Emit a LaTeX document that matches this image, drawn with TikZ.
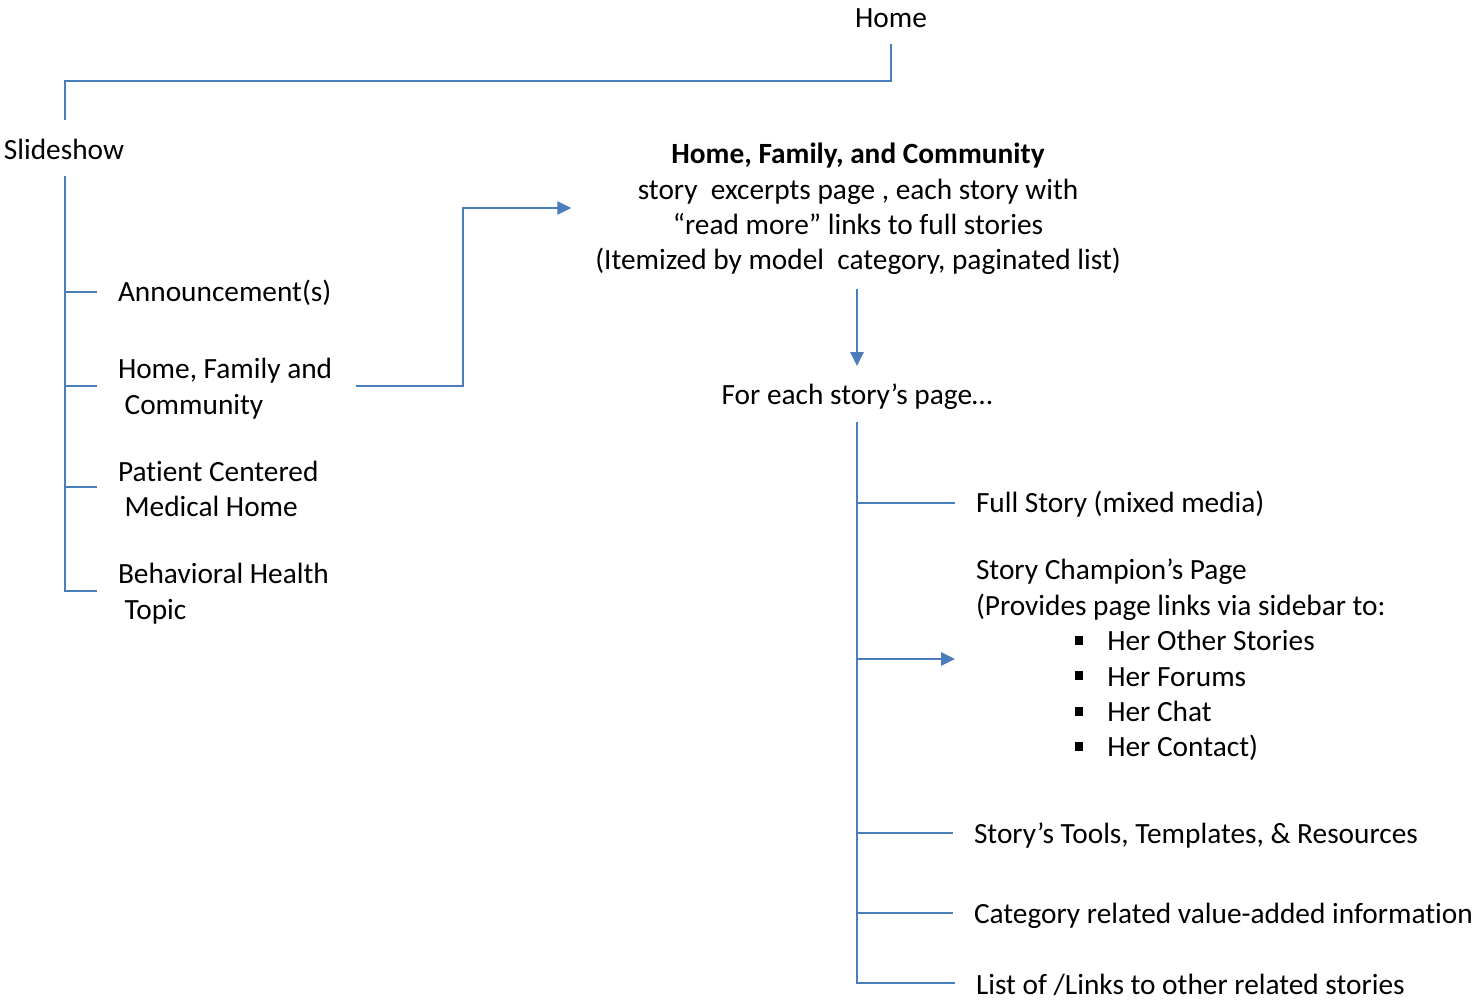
\documentclass[tikz,border=0pt]{standalone}
\usepackage{fontspec}
\setmainfont{Carlito}[Ligatures=NoCommon]
\usetikzlibrary{calc,arrows.meta}
\definecolor{linkblue}{RGB}{74,126,187}
\newcommand{\sqbullet}{\rule[4.5pt]{6.5pt}{6.5pt}\hspace{18pt}}
\begin{document}
\begin{tikzpicture}[x=0.75pt,y=-0.75pt,
  every node/.style={inner sep=0pt,outer sep=0pt,font=\fontsize{22}{26.6}\selectfont},
  label/.style={anchor=west,align=left},
  conn/.style={draw=linkblue,line width=1.6pt},
  arr/.style={conn,-{Triangle[length=10.5pt,width=10pt]}}]
\useasboundingbox (0,0) rectangle (1479,1001);

% top level
\node (home) at (891,18) {Home};
\node (slide) at (64,149) {Slideshow};
\draw[conn] ($(home.center)+(0,26)$) -- ($(home.center)+(0,63)$) -|
  ($(slide.center)+(1,-29)$);

% slideshow children
\node[label] (ann) at (118,293) {Announcement(s)};
\node[label] (hfc) at (118,388.5) {Home, Family and\\ \ Community};
\node[label] (pcmh) at (118,489) {Patient Centered\\ \ Medical Home};
\node[label] (beh) at (118,593.5) {Behavioral Health\\ \ Topic};

\coordinate (ltop) at ($(slide.center)+(1,27)$);
\draw[conn] (ltop) |- ($(beh.west)+(-21,-2.5)$);
\draw[conn] ($(ann.west -| ltop)+(0,-1)$) -- ($(ann.west)+(-21,-1)$);
\draw[conn] ($(hfc.west -| ltop)+(0,-2.5)$) -- ($(hfc.west)+(-21,-2.5)$);
\draw[conn] ($(pcmh.west -| ltop)+(0,-2)$) -- ($(pcmh.west)+(-21,-2)$);

% story excerpts page
\node[align=center] (blk) at (858,209) {\textbf{Home, Family, and Community}\\
  story\ \ excerpts page , each story with\\
  “read more” links to full stories\\
  (Itemized by model\ \ category, paginated list)};
\draw[arr] ($(hfc.east)+(24,-2.5)$) -| ($(blk.west)+(-132,-1)$) -- ($(blk.west)+(-24,-1)$);

\node (each) at (857,397) {For each story’s page…};
\draw[arr] ($(blk.center)+(-1,80)$) -- ($(each.center)+(0,-31)$);

% story page children
\node[label] (full) at (976,504) {Full Story (mixed media)};
\node[label] (champ) at (976,660) {Story Champion’s Page\\
  (Provides page links via sidebar to:\\
  \hspace*{74pt}\sqbullet Her Other Stories\\
  \hspace*{74pt}\sqbullet Her Forums\\
  \hspace*{74pt}\sqbullet Her Chat\\
  \hspace*{74pt}\sqbullet Her Contact)};
\node[label] (tools) at (974,836) {Story’s Tools, Templates, \& Resources};
\node[label] (cat) at (974,916) {Category related value-added information};
\node[label] (list) at (976,985) {List of /Links to other related stories};

\coordinate (rtop) at ($(each.center)+(0,25)$);
\draw[conn] (rtop) |- ($(list.west)+(-21,-2)$);
\draw[conn] ($(full.west -| rtop)+(0,-1)$) -- ($(full.west)+(-21,-1)$);
\draw[arr] ($(champ.west -| rtop)+(0,-1)$) -- ($(champ.west)+(-21,-1)$);
\draw[conn] ($(tools.west -| rtop)+(0,-3)$) -- ($(tools.west)+(-21,-3)$);
\draw[conn] ($(cat.west -| rtop)+(0,-3)$) -- ($(cat.west)+(-21,-3)$);
\end{tikzpicture}
\end{document}
